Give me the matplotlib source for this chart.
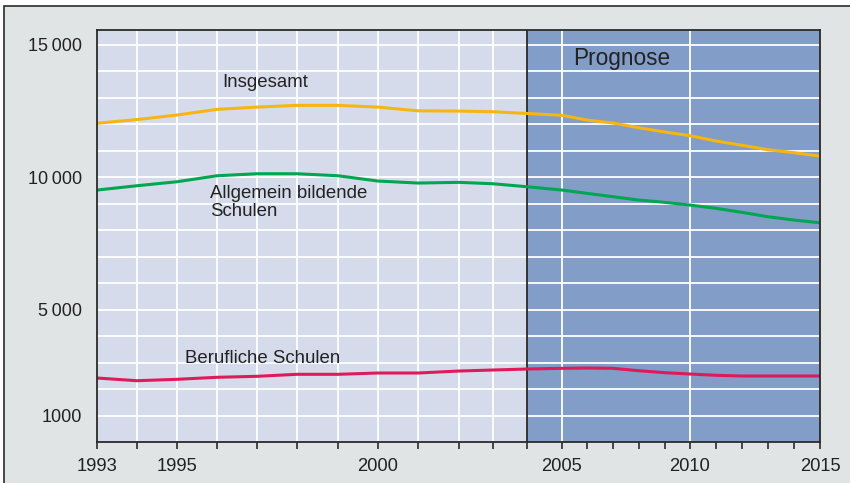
import numpy as np
import matplotlib
matplotlib.use("Agg")
import matplotlib.pyplot as plt
from matplotlib.patches import Rectangle

plt.rcParams['font.family'] = ['Liberation Sans', 'DejaVu Sans']

years = list(range(1993, 2016))
insgesamt = [12030, 12170, 12340, 12555, 12640, 12706, 12706, 12640, 12500, 12490, 12465, 12400,
             12330, 12150, 12040, 11860, 11700, 11560, 11360, 11200, 11030, 10920, 10790]
allgemein = [9509, 9672, 9823, 10049, 10125, 10125, 10049, 9849, 9774, 9800, 9747, 9634,
             9509, 9385, 9257, 9132, 9045, 8943, 8819, 8668, 8502, 8377, 8275]
beruflich = [2415, 2313, 2366, 2442, 2479, 2555, 2555, 2604, 2604, 2679, 2717, 2755,
             2781, 2792, 2781, 2690, 2615, 2566, 2517, 2491, 2491, 2491, 2491]

ytick_vals = [1000, 5000, 10000, 15000]
ytick_labels = ['1000', '5\u2009000', '10\u2009000', '15\u2009000']
xtick_label_years = [1993, 1995, 2000, 2005, 2010, 2015]
prognose_start = 2004

# non-uniform horizontal scale of the original drawing (relative widths per year)
scale_pos = [97, 137, 177, 217, 257, 297, 338, 378, 418, 459, 493, 527,
             562, 587, 613, 639, 665, 690, 716, 742, 768, 794, 820]

def fwd(x):
    return np.interp(x, years, scale_pos)

def inv(x):
    return np.interp(x, scale_pos, years)

W, H = 850, 483
fig = plt.figure(figsize=(W / 100, H / 100), dpi=100)
fig.patch.set_facecolor('white')
fig.patches.append(Rectangle((4 / W, -0.01), (W + 10) / W, (H - 6) / H + 0.01,
                             transform=fig.transFigure, facecolor='#e1e4e5',
                             edgecolor='#2a2a2a', linewidth=1.2, zorder=-5))

ax = fig.add_axes([97 / W, 1 - 442 / H, (820 - 97) / W, (442 - 30) / H])
ax.set_zorder(1)
ax.set_xscale('function', functions=(fwd, inv))
ax.set_xlim(1993, 2015)
ax.set_ylim(0, 15550)
ax.set_facecolor('#d5dbea')

ax.axvspan(prognose_start, 2015, color='#829dc8', zorder=0.5, lw=0)

for yv in range(1000, 16000, 1000):
    ax.axhline(yv, color='white', lw=1.3, zorder=1)
for xv in years:
    if 1993 < xv < prognose_start or xv in (2005, 2010):
        ax.axvline(xv, color='white', lw=1.3, zorder=1)
ax.axvline(prognose_start, color='#2a2a2a', lw=1.3, zorder=2)

ax.plot(years, insgesamt, color='#f7b512', lw=2.2, zorder=3, solid_capstyle='butt')
ax.plot(years, allgemein, color='#00a650', lw=2.2, zorder=3, solid_capstyle='butt')
ax.plot(years, beruflich, color='#de1a5a', lw=2.2, zorder=3, solid_capstyle='butt')

tc = '#222222'
fs = 13.4
ax.text(1996.125, 13585, 'Insgesamt', fontsize=fs, color=tc, ha='left', va='center')
ax.text(1995.83, 9040, 'Allgemein bildende\nSchulen', fontsize=fs, color=tc,
        ha='left', va='center', linespacing=1.02)
ax.text(1995.2, 3170, 'Berufliche Schulen', fontsize=fs, color=tc, ha='left', va='center')
ax.text(2005.45, 14490, 'Prognose', fontsize=16.3, color=tc, ha='left', va='center')

for s in ax.spines.values():
    s.set_color('#2a2a2a')
    s.set_linewidth(1.3)
    s.set_zorder(4)

ax.set_xticks(years, minor=False)
ax.set_xticklabels([str(y) if y in xtick_label_years else '' for y in years])
ax.tick_params(axis='x', direction='out', length=5, width=1.2, color='#2a2a2a',
               labelsize=13.2, labelcolor=tc, pad=6.5)
ax.set_yticks(ytick_vals)
ax.set_yticklabels(ytick_labels)
ax.tick_params(axis='y', length=0, labelsize=13, labelcolor=tc, pad=11)

fig.savefig('out.png', dpi=100, facecolor=fig.get_facecolor())
